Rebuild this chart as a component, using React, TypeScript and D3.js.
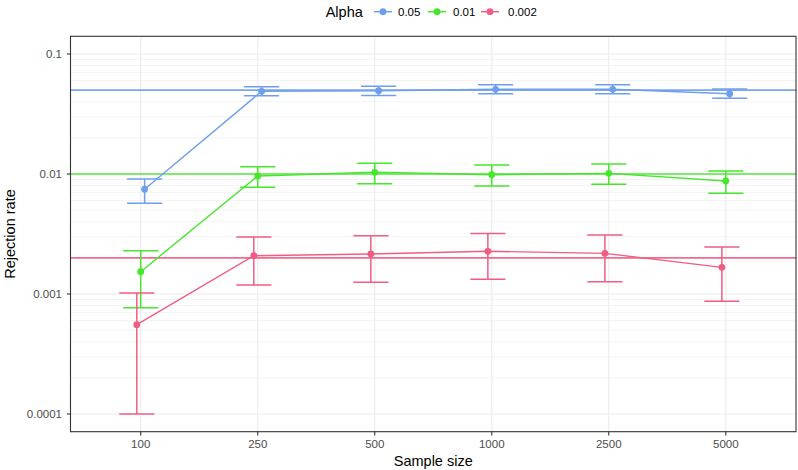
import React from "react";
import * as d3 from "d3";

const sampleSizes = ["100", "250", "500", "1000", "2500", "5000"];
const alphaLevels = ["0.05", "0.01", "0.002"];
const alphaValues = [0.05, 0.01, 0.002];
const seriesColors = ["#6F9FEC", "#45E62B", "#EF5D83"];
const dodgeIndex = [1, 0, -1];

const rate005 = [0.00746, 0.0489, 0.0494, 0.0508, 0.0508, 0.0467];
const lower005 = [0.0057, 0.0449, 0.0452, 0.0466, 0.0467, 0.0428];
const upper005 = [0.00908, 0.0534, 0.0539, 0.0555, 0.0555, 0.0511];

const rate001 = [0.001535, 0.00962, 0.01033, 0.00987, 0.01013, 0.00874];
const lower001 = [0.000769, 0.00774, 0.0083, 0.00794, 0.0082, 0.0069];
const upper001 = [0.002296, 0.0115, 0.01228, 0.01189, 0.01212, 0.0106];

const rate0002 = [0.000555, 0.002085, 0.002154, 0.00227, 0.00218, 0.001668];
const lower0002 = [0.0001, 0.00119, 0.00125, 0.00133, 0.001266, 0.000869];
const upper0002 = [0.00102, 0.002985, 0.00306, 0.0032, 0.0031, 0.002466];

const yTickValues = [0.0001, 0.001, 0.01, 0.1];
const yTickLabels = ["0.0001", "0.001", "0.01", "0.1"];

const rates = [rate005, rate001, rate0002];
const lowers = [lower005, lower001, lower0002];
const uppers = [upper005, upper001, upper0002];

const W = 798;
const H = 470;
const FONT = "'Liberation Sans', Arial, Helvetica, sans-serif";

export default function App() {
  const left = 70.5;
  const right = 796;
  const top = 36.3;
  const bottom = 431.7;

  const x = d3
    .scalePoint<string>()
    .domain(sampleSizes)
    .range([left, right])
    .padding(0.6);
  const unit = x.step();

  const y = d3
    .scaleLog()
    .domain([Math.pow(10, -4.1475), Math.pow(10, -0.8525)])
    .range([bottom, top]);

  const minorTicks: number[] = [];
  for (let e = -4; e <= -2; e++) {
    for (let m = 2; m <= 9; m++) minorTicks.push(m * Math.pow(10, e));
  }

  const dodge = 0.0333 * unit;
  const capHalf = 0.15 * unit;

  const line = d3
    .line<[number, number]>()
    .x((d) => d[0])
    .y((d) => d[1]);

  return (
    <svg
      width={W}
      height={H}
      style={{ position: "absolute", left: 0, top: 0, background: "#fff" }}
      fontFamily={FONT}
    >
      <rect x={0} y={0} width={W} height={H} fill="#fff" />
      {/* minor grid */}
      {minorTicks.map((t, i) => (
        <line
          key={"mg" + i}
          x1={left}
          x2={right}
          y1={y(t)}
          y2={y(t)}
          stroke="#EBEBEB"
          strokeWidth={0.6}
        />
      ))}
      {/* major grid */}
      {yTickValues.map((t, i) => (
        <line
          key={"yg" + i}
          x1={left}
          x2={right}
          y1={y(t)}
          y2={y(t)}
          stroke="#EBEBEB"
          strokeWidth={1.1}
        />
      ))}
      {sampleSizes.map((s) => (
        <line
          key={"xg" + s}
          x1={x(s)!}
          x2={x(s)!}
          y1={top}
          y2={bottom}
          stroke="#EBEBEB"
          strokeWidth={1.1}
        />
      ))}
      {/* reference lines */}
      {alphaValues.map((a, i) => (
        <line
          key={"h" + i}
          x1={left}
          x2={right}
          y1={y(a)}
          y2={y(a)}
          stroke={seriesColors[i]}
          strokeWidth={1.6}
          opacity={0.9}
        />
      ))}
      {/* series */}
      {alphaLevels.map((lvl, si) => {
        const off = dodgeIndex[si] * dodge;
        const pts: [number, number][] = sampleSizes.map((s, k) => [
          x(s)! + off,
          y(rates[si][k]),
        ]);
        return (
          <g key={"s" + lvl}>
            {sampleSizes.map((s, k) => {
              const cx = x(s)! + off;
              const yl = y(lowers[si][k]);
              const yu = y(uppers[si][k]);
              return (
                <g key={"e" + k} stroke={seriesColors[si]} strokeWidth={1.5}>
                  <line x1={cx} x2={cx} y1={yl} y2={yu} />
                  <line x1={cx - capHalf} x2={cx + capHalf} y1={yl} y2={yl} />
                  <line x1={cx - capHalf} x2={cx + capHalf} y1={yu} y2={yu} />
                </g>
              );
            })}
            <path
              d={line(pts) || ""}
              fill="none"
              stroke={seriesColors[si]}
              strokeWidth={1.4}
            />
            {pts.map((p, k) => (
              <circle
                key={"p" + k}
                cx={p[0]}
                cy={p[1]}
                r={3.4}
                fill={seriesColors[si]}
              />
            ))}
          </g>
        );
      })}
      {/* panel border */}
      <rect
        x={left}
        y={top}
        width={right - left}
        height={bottom - top}
        fill="none"
        stroke="#333333"
        strokeWidth={1.1}
      />
      {/* y axis */}
      {yTickValues.map((t, i) => (
        <g key={"yt" + i}>
          <line
            x1={left - 3.7}
            x2={left}
            y1={y(t)}
            y2={y(t)}
            stroke="#333333"
            strokeWidth={1.1}
          />
          <text
            x={left - 8.5}
            y={y(t)}
            dy="0.35em"
            textAnchor="end"
            fontSize={11.5}
            fill="#4D4D4D"
          >
            {yTickLabels[i]}
          </text>
        </g>
      ))}
      {/* x axis */}
      {sampleSizes.map((s) => (
        <g key={"xt" + s}>
          <line
            x1={x(s)!}
            x2={x(s)!}
            y1={bottom}
            y2={bottom + 3.7}
            stroke="#333333"
            strokeWidth={1.1}
          />
          <text
            x={x(s)!}
            y={448}
            textAnchor="middle"
            fontSize={11.5}
            fill="#4D4D4D"
          >
            {s}
          </text>
        </g>
      ))}
      <text
        x={(left + right) / 2}
        y={466}
        textAnchor="middle"
        fontSize={14.5}
        fill="#000"
      >
        Sample size
      </text>
      <text
        transform={`translate(15,${(top + bottom) / 2}) rotate(-90)`}
        textAnchor="middle"
        fontSize={14.5}
        fill="#000"
      >
        Rejection rate
      </text>
      {/* legend */}
      <text x={325.7} y={16.5} fontSize={14.5} fill="#000">
        Alpha
      </text>
      {alphaLevels.map((lvl, i) => {
        const keyX = [374, 428, 481][i];
        const labX = [398, 453, 508][i];
        return (
          <g key={"lg" + lvl}>
            <line
              x1={keyX}
              x2={keyX + 18}
              y1={11.7}
              y2={11.7}
              stroke={seriesColors[i]}
              strokeWidth={1.5}
            />
            <circle cx={keyX + 9} cy={11.7} r={3.4} fill={seriesColors[i]} />
            <text x={labX} y={15.8} fontSize={11.5} fill="#000">
              {lvl}
            </text>
          </g>
        );
      })}
    </svg>
  );
}
